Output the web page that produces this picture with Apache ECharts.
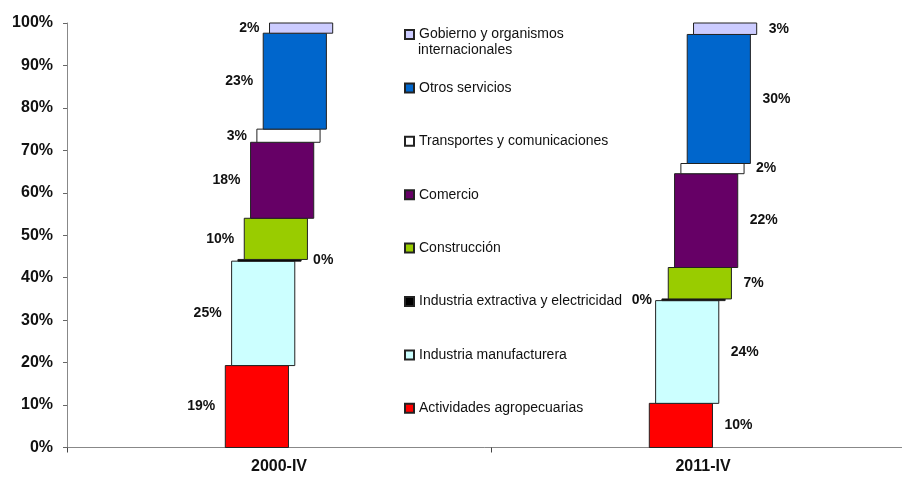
<!DOCTYPE html>
<html>
<head>
<meta charset="utf-8">
<script src="https://cdn.jsdelivr.net/npm/echarts@6/dist/echarts.min.js"></script>
<style>
  html, body { margin: 0; padding: 0; background: #fff; }
  #chart { width: 902px; height: 477px; }
</style>
</head>
<body>
<div id="chart"></div>
<script>
var categories = ['2000-IV', '2011-IV'];
// sectores, de abajo hacia arriba
var sectors = [
    'Actividades agropecuarias',
    'Industria manufacturera',
    'Industria extractiva y electricidad',
    'Construcción',
    'Comercio',
    'Transportes y comunicaciones',
    'Otros servicios',
    'Gobierno y organismos internacionales'
];
var share2000 = [19.3, 24.6, 0.4, 9.7, 17.9, 3.1, 22.6, 2.4];
var share2011 = [10.4, 24.2, 0.4, 7.4, 22.1, 2.4, 30.4, 2.7];
var yTicks = [0, 10, 20, 30, 40, 50, 60, 70, 80, 90, 100];

var colors = ['#ff0000', '#ccffff', '#000000', '#99cc00', '#660066', '#ffffff', '#0066cc', '#ccccff'];
var FONT = '"Liberation Sans", Arial, sans-serif';

function cumulate(arr) {
    var out = [], acc = 0;
    arr.forEach(function (v) { out.push(acc); acc += v; });
    return out;
}
var starts = [cumulate(share2000), cumulate(share2011)];
var shares = [share2000, share2011];

var myChart = echarts.init(document.getElementById('chart'));

var series = sectors.map(function (name, k) {
    return {
        name: name,
        type: 'custom',
        coordinateSystem: 'cartesian2d',
        itemStyle: { color: colors[k], borderColor: '#222', borderWidth: 1 },
        encode: { x: 0, y: [1, 2] },
        data: categories.map(function (c, i) {
            return [i, starts[i][k], starts[i][k] + shares[i][k], shares[i][k]];
        }),
        renderItem: function (params, api) {
            var cat = api.value(0);
            var p0 = api.coord([cat, api.value(1)]);
            var p1 = api.coord([cat, api.value(2)]);
            var band = api.size([1, 0])[0];
            var barW = band * 0.149;
            var step = band * 0.0149;
            var cx = p0[0] + (k - 3.5) * step;
            var x = cx - barW / 2;
            // etiquetas: a la izquierda en 2000, a la derecha en 2011 (al revés para la barra mínima)
            var leftSide = (cat === 0) !== (k === 2);
            return {
                type: 'group',
                children: [{
                    type: 'rect',
                    shape: { x: x, y: p1[1], width: barW, height: p0[1] - p1[1] },
                    style: { fill: colors[k], stroke: '#222', lineWidth: 1 }
                }, {
                    type: 'text',
                    x: leftSide ? x - 10 : x + barW + 12,
                    y: (p0[1] + p1[1]) / 2,
                    style: {
                        text: Math.round(api.value(3)) + '%',
                        font: 'bold 14px ' + FONT,
                        fill: '#111',
                        align: leftSide ? 'right' : 'left',
                        verticalAlign: 'middle'
                    }
                }]
            };
        }
    };
});

var option = {
    animation: false,
    grid: { left: 67, width: 848, top: 23, bottom: 29.5, outerBoundsMode: 'none', containLabel: false },
    legend: {
        orient: 'vertical',
        left: 399,
        top: 22.5,
        icon: 'rect',
        itemWidth: 9,
        itemHeight: 9,
        itemGap: 39.4,
        data: sectors.slice().reverse(),
        formatter: function (name) {
            return name === sectors[7] ? 'Gobierno y organismos' : name;
        },
        textStyle: { fontFamily: FONT, fontSize: 14, color: '#111', lineHeight: 14 },
        selectedMode: false
    },
    graphic: [{
        type: 'text',
        left: 418,
        top: 43.5,
        style: { text: 'internacionales', font: '14px ' + FONT, fill: '#111' }
    }],
    xAxis: {
        type: 'category',
        data: categories,
        axisLine: { lineStyle: { color: '#888', width: 1 } },
        axisTick: { show: true, length: 5, lineStyle: { color: '#444' } },
        axisLabel: { fontFamily: FONT, fontSize: 16, fontWeight: 'bold', color: '#111', margin: 11 }
    },
    yAxis: {
        type: 'value',
        min: 0,
        max: 100,
        interval: 10,
        axisLine: { show: true, lineStyle: { color: '#888', width: 1 } },
        axisTick: { show: true, length: 4, lineStyle: { color: '#666' } },
        splitLine: { show: false },
        axisLabel: {
            fontFamily: FONT, fontSize: 16, fontWeight: 'bold', color: '#111', margin: 14,
            formatter: function (v) { return yTicks.indexOf(v) >= 0 ? v + '%' : ''; }
        }
    },
    series: series
};
myChart.setOption(option);
</script>
</body>
</html>
